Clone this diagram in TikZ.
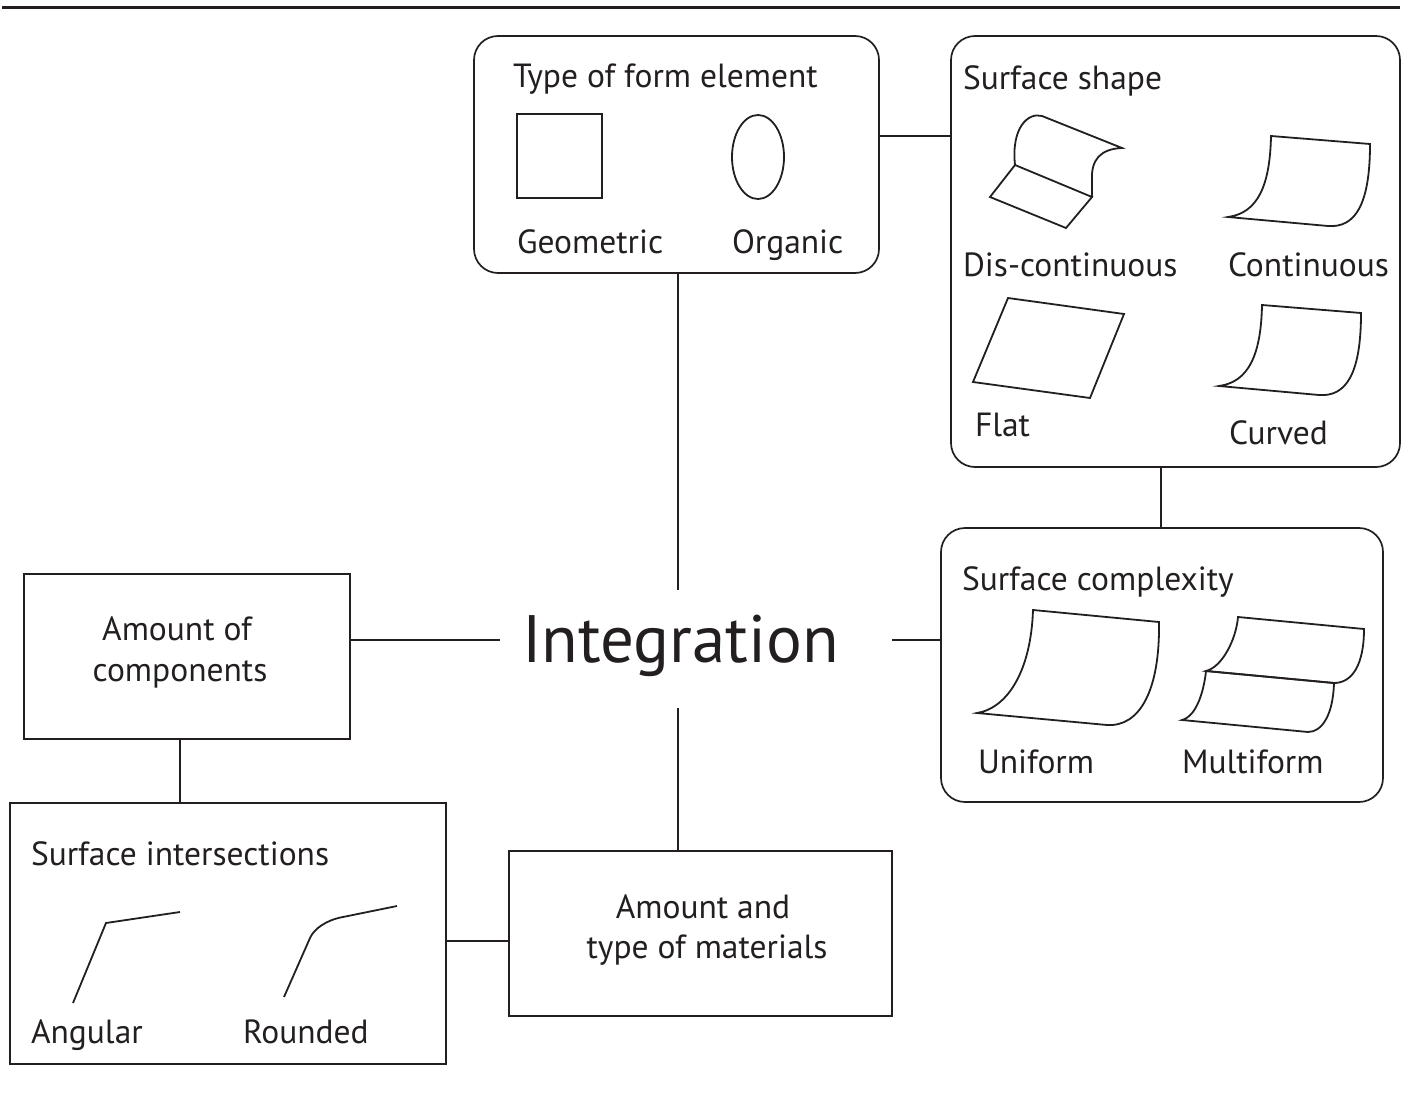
\documentclass[tikz,border=0pt]{standalone}
\usepackage{fontspec}
\setmainfont{PT Sans}
\definecolor{ink}{HTML}{231F20}
\begin{document}
\begin{tikzpicture}[x=1pt,y=-1pt,
  every node/.style={inner sep=0pt, outer sep=0pt, text=ink},
  rbox/.style={draw=ink, line width=1.7pt, rounded corners=24pt},
  sbox/.style={draw=ink, line width=1.7pt},
  lbl/.style={anchor=base west, font=\fontsize{33.5}{40}\selectfont},
  clbl/.style={anchor=base, font=\fontsize{33.5}{40}\selectfont},
  icon/.style={draw=ink, line width=1.8pt, line join=miter},
  link/.style={draw=ink, line width=1.7pt}]
\useasboundingbox (0,0) rectangle (1410,1102);

% rule across the top
\draw[ink, line width=3pt] (2,8) -- (1400,8);

% frames
\node[rbox, minimum width=405pt, minimum height=237pt] (type) at (676.5,154.5) {};
\node[rbox, minimum width=449pt, minimum height=431pt] (shape) at (1175.5,251.5) {};
\node[rbox, minimum width=442pt, minimum height=274pt] (cmplx) at (1162,665) {};
\node[sbox, minimum width=326pt, minimum height=165pt] (comp) at (187,656.5) {};
\node[sbox, minimum width=436pt, minimum height=261pt] (inter) at (228,933.5) {};
\node[sbox, minimum width=383pt, minimum height=165pt] (mat) at (700.5,933.5) {};

% central term and the ends of its connectors
\node[anchor=base west, font=\fontsize{67}{76}\selectfont] (integ) at (522,662) {Integration};
\coordinate (iL) at (500,640);
\coordinate (iR) at (892,640);
\coordinate (iT) at (678,590);
\coordinate (iB) at (678,708);

% connectors
\draw[link] (type.south -| iT) -- (iT);
\draw[link] (type.east |- 0,136) -- (shape.west |- 0,136);
\draw[link] (shape.south -| 1161,0) -- (cmplx.north -| 1161,0);
\draw[link] (iR) -- (cmplx.west |- iR);
\draw[link] (comp.east |- iL) -- (iL);
\draw[link] (iB) -- (mat.north -| iB);
\draw[link] (comp.south -| 180,0) -- (inter.north -| 180,0);
\draw[link] (inter.east |- 0,941) -- (mat.west |- 0,941);

% type of form element
\node[lbl] (tTitle) at (513,88) {Type of form element};
\draw[icon] (517,114) rectangle (602,198);
\draw[icon] (758,157) ellipse [x radius=26pt, y radius=42pt];
\node[lbl] (tGeo) at (517,253) {Geometric};
\node[lbl] (tOrg) at (732,253) {Organic};

% surface shape
\node[lbl] (sTitle) at (963,90) {Surface shape};
\draw[icon] (1015,165) -- (1092,197) -- (1066,228) -- (990,197) -- cycle;
\draw[icon] (1015,165) .. controls (1011,128) and (1028,112) .. (1042,116)
  -- (1122,148) .. controls (1100,149) and (1091,160) .. (1092,180) -- (1092,197);
\node[lbl] (sDis) at (963,276) {Dis-continuous};
\begin{scope}[icon]
  \draw (1271,136) -- (1370,144) .. controls (1370,205) and (1355,228) .. (1328,226)
    -- (1228,217) .. controls (1258,213) and (1270,185) .. cycle;
\end{scope}
\node[lbl] (sCont) at (1228,276) {Continuous};
\draw[icon] (1008,298) -- (1124,314) -- (1090,398) -- (973,382) -- cycle;
\node[lbl] (sFlat) at (975,436) {Flat};
\begin{scope}[icon, shift={(-9pt,-169pt)}]
  \draw (1271,136) -- (1370,144) .. controls (1370,205) and (1355,228) .. (1328,226)
    -- (1228,217) .. controls (1258,213) and (1270,185) .. cycle;
\end{scope}
\node[lbl] (sCurv) at (1229,444) {Curved};

% surface complexity
\node[lbl] (cTitle) at (962,590) {Surface complexity};
\draw[icon] (1033,610) -- (1159,622) .. controls (1160,690) and (1140,727) .. (1107,725)
  -- (977,713) .. controls (1008,708) and (1031,670) .. cycle;
\node[lbl] (cUni) at (978,773) {Uniform};
\draw[icon] (1238,617) -- (1364,629) .. controls (1364,665) and (1352,683) .. (1334,683)
  -- (1206,671) .. controls (1222,667) and (1236,640) .. cycle;
\draw[icon] (1206,671) -- (1334,683) .. controls (1333,715) and (1322,732) .. (1308,732)
  -- (1182,720) .. controls (1197,716) and (1204,690) .. cycle;
\node[lbl] (cMul) at (1182,773) {Multiform};

% amount of components
\node[clbl] (aTop) at (177,640) {Amount of};
\node[clbl] (aBot) at (180,681) {components};

% surface intersections
\node[lbl] (xTitle) at (31,865) {Surface intersections};
\draw[icon] (73,1003) -- (106,923) -- (180,912);
\draw[icon] (284,997) -- (310,938) .. controls (314,929) and (326,920) .. (343,917) -- (397,906);
\node[lbl] (xAng) at (31,1043) {Angular};
\node[lbl] (xRnd) at (243,1043) {Rounded};

% amount and type of materials
\node[clbl] (mTop) at (703,918) {Amount and};
\node[clbl] (mBot) at (707,958) {type of materials};
\end{tikzpicture}
\end{document}
